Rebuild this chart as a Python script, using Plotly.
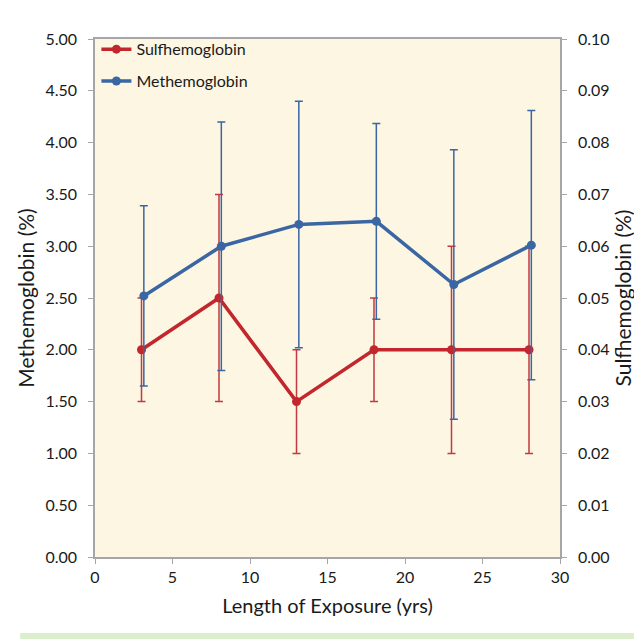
import plotly.graph_objects as go

# ---- data ----
x_sulf = [3, 8, 13, 18, 23, 28]
sulf = [0.04, 0.05, 0.03, 0.04, 0.04, 0.04]
sulf_err = [0.01, 0.02, 0.01, 0.01, 0.02, 0.02]

x_met = [3.15, 8.15, 13.15, 18.15, 23.15, 28.15]
met = [2.52, 3.00, 3.21, 3.24, 2.63, 3.01]
met_err = [0.87, 1.20, 1.19, 0.945, 1.30, 1.30]

x_ticks = [0, 5, 10, 15, 20, 25, 30]

RED = "#C1272D"
BLUE = "#3A66A3"
FONT = "Lato"

fig = go.Figure()

fig.add_trace(go.Scatter(
    x=x_sulf, y=sulf, name="Sulfhemoglobin", yaxis="y",
    mode="lines+markers", legendgroup="s",
    line=dict(color=RED, width=3.5), marker=dict(color=RED, size=9),
    error_y=dict(type="data", array=sulf_err, visible=True,
                 color="#C43A3E", thickness=1.5, width=4),
))
fig.add_trace(go.Scatter(
    x=x_met, y=met, name="Methemoglobin", yaxis="y2",
    mode="lines+markers", legendgroup="m",
    line=dict(color=BLUE, width=3.5), marker=dict(color=BLUE, size=9),
    error_y=dict(type="data", array=met_err, visible=True,
                 color=BLUE, thickness=1.5, width=4),
))

axis_common = dict(showline=True, linecolor="#A6A6A6", linewidth=1.5,
                   ticks="outside", ticklen=5, tickcolor="#A6A6A6",
                   showgrid=False, zeroline=False,
                   tickfont=dict(family=FONT, size=16, color="#1a1a1a"))

fig.update_layout(
    width=642, height=639,
    margin=dict(l=87, r=90, t=31, b=90),
    paper_bgcolor="white", plot_bgcolor="#FDF6E3",
    font=dict(family=FONT, color="#1a1a1a"),
    xaxis=dict(range=[0, 30], tickvals=x_ticks, mirror=True,
               title=dict(text="Length of Exposure (yrs)", font=dict(family=FONT, size=20), standoff=14),
               **axis_common),
    yaxis=dict(range=[0, 0.10], dtick=0.01, tickformat=".2f", side="right",
               ticklabelstandoff=8,
               title=dict(text="Sulfhemoglobin (%)", font=dict(family=FONT, size=21), standoff=6),
               **axis_common),
    yaxis2=dict(range=[0, 5], dtick=0.5, tickformat=".2f", side="left", overlaying="y",
                ticklabelstandoff=8,
                title=dict(text="Methemoglobin (%)", font=dict(family=FONT, size=21), standoff=5),
                **axis_common),
    legend=dict(x=0.003, y=1.013, xanchor="left", yanchor="top",
                bgcolor="rgba(0,0,0,0)", traceorder="grouped", tracegroupgap=8,
                font=dict(family=FONT, size=16, color="#1a1a1a")),
    shapes=[dict(type="rect", xref="paper", yref="paper",
                 x0=-0.161, x1=1.185, y0=-0.2, y1=-0.1465,
                 fillcolor="#DCEFCD", line=dict(width=0), layer="below")],
)

fig.write_html("out.html")
